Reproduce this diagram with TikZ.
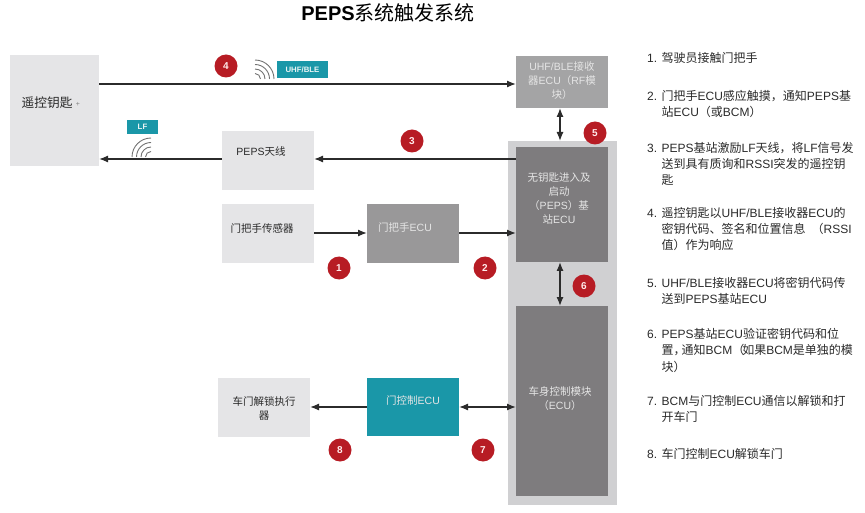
\documentclass[tikz,border=0pt]{standalone}
\usepackage{fontspec}
\setmainfont{Liberation Sans}
\newfontfamily\cjk{Noto Sans CJK SC}
\usetikzlibrary{arrows.meta}
\definecolor{lightbox}{HTML}{E5E5E7}
\definecolor{midbox}{HTML}{999899}
\definecolor{rfbox}{HTML}{A4A4A5}
\definecolor{darkbox}{HTML}{7E7C7E}
\definecolor{backbox}{HTML}{D0D0D2}
\definecolor{tealbox}{HTML}{1A97A8}
\definecolor{badgered}{HTML}{B71C24}
\definecolor{linecol}{HTML}{2B2B2B}
\definecolor{inktext}{HTML}{2A2A2A}
\newcommand\zh[1]{{\cjk #1}}
\newcommand\mkbox[6]{%
  \pgfmathsetmacro\bw{#5-#3}\pgfmathsetmacro\bh{#6-#4}%
  \node[#2,minimum width=\bw pt,minimum height=\bh pt,anchor=north west] (#1) at (#3,#4) {};}
\tikzset{
  boxbase/.style={inner sep=0pt,outer sep=0pt,draw=none},
  lightb/.style={boxbase,fill=lightbox},
  midb/.style={boxbase,fill=midbox},
  rfb/.style={boxbase,fill=rfbox},
  darkb/.style={boxbase,fill=darkbox},
  backb/.style={boxbase,fill=backbox},
  tealb/.style={boxbase,fill=tealbox},
  labdark/.style={align=center,inner sep=0pt,text=inktext,font=\fontsize{10.5}{14}\selectfont},
  lablight/.style={align=center,inner sep=0pt,text=white!90!black,font=\fontsize{10.5}{14}\selectfont},
  tagtext/.style={inner sep=0pt,text=white!92!teal,font=\fontsize{7.8}{8}\selectfont\bfseries},
  badge/.style={circle,fill=badgered,draw=none,minimum size=23pt,inner sep=0pt,text=white!92!red,font=\fontsize{10}{10}\selectfont\bfseries},
  conn/.style={draw=linecol,line width=1.3pt},
  onearrow/.style={conn,-{Latex[length=9pt,width=7pt]}},
  twoarrow/.style={conn,{Latex[length=9pt,width=7pt]}-{Latex[length=9pt,width=7pt]}},
  wave/.style={draw=gray!90!black,line width=0.9pt},
  steptext/.style={anchor=north west,align=left,inner sep=0pt,text=inktext,font=\fontsize{12}{16.3}\selectfont},
}
\begin{document}
\begin{tikzpicture}[x=1pt,y=-1pt]
\useasboundingbox (0,0) rectangle (865,513);
% title
\node[inner sep=0pt,text=black,font=\fontsize{20}{22}\selectfont] (title) at (388,13) {\textbf{PEPS}\zh{系统触发系统}};
% boxes
\mkbox{back}{backb}{508}{141}{617}{505}
\mkbox{fob}{lightb}{10}{55}{99}{166}
\mkbox{rf}{rfb}{516}{56}{608}{108}
\mkbox{peps}{darkb}{516}{147}{608}{262}
\mkbox{bcm}{darkb}{516}{306}{608}{496}
\mkbox{ant}{lightb}{222}{131}{314}{190}
\mkbox{sensor}{lightb}{222}{204}{314}{263}
\mkbox{hecu}{midb}{367}{204}{459}{263}
\mkbox{decu}{tealb}{367}{378}{459}{436}
\mkbox{act}{lightb}{218}{378}{310}{437}
% tags
\mkbox{uhftag}{tealb}{277}{61}{328}{78}
\mkbox{lftag}{tealb}{127}{120}{158}{134}
\node[tagtext] (uhftxt) at (uhftag) {UHF/BLE};
\node[tagtext] (lftxt) at (lftag) {LF};
% box labels
\node[inner sep=0pt,text=inktext,font=\fontsize{12.75}{14}\selectfont] (fobtxt) at (47,103) {\zh{遥控钥匙}};
\node[inner sep=0pt,text=gray,font=\fontsize{7}{8}\selectfont] (fobplus) at (78,104) {+};
\node[lablight] (rftxt) at (562,81) {UHF/BLE\zh{接收}\\\zh{器}ECU\zh{（}RF\zh{模}\\\zh{块）}};
\node[lablight] (pepstxt) at (559,199) {\zh{无钥匙进入及}\\\zh{启动}\\\zh{（}PEPS\zh{）基}\\\zh{站}ECU};
\node[lablight] (bcmtxt) at (560,399) {\zh{车身控制模块}\\\zh{（}ECU\zh{）}};
\node[labdark] (anttxt) at (261,151) {PEPS\zh{天线}};
\node[labdark] (sensortxt) at (262,228) {\zh{门把手传感器}};
\node[lablight] (hecutxt) at (405,228) {\zh{门把手}ECU};
\node[lablight] (decutxt) at (413,401) {\zh{门控制}ECU};
\node[labdark] (acttxt) at (264,408) {\zh{车门解锁执行}\\\zh{器}};
% y levels of the connectors
\coordinate (y4) at (0,84);
\coordinate (y3) at (0,159);
\coordinate (y1) at (0,233);
\coordinate (y7) at (0,407);
\coordinate (xv) at (560,0);
% connectors
\draw[onearrow] (fob.east|-y4) -- (rf.west|-y4);
\draw[onearrow] (peps.west|-y3) -- (ant.east|-y3);
\draw[onearrow] (ant.west|-y3) -- (fob.east|-y3);
\draw[onearrow] (sensor.east|-y1) -- (hecu.west|-y1);
\draw[onearrow] (hecu.east|-y1) -- (peps.west|-y1);
\draw[twoarrow] (rf.south-|xv) -- (back.north-|xv);
\draw[twoarrow] (peps.south-|xv) -- (bcm.north-|xv);
\draw[onearrow] (decu.west|-y7) -- (act.east|-y7);
\draw[twoarrow] (decu.east|-y7) -- (bcm.west|-y7);
% wireless symbols
\foreach \r in {5.5,10,14.5,19}
  \draw[wave] (255+\r,79) arc[start angle=0,end angle=-90,radius=\r];
\foreach \r in {5.5,10,14.5,19}
  \draw[wave] (151-\r,157) arc[start angle=180,end angle=270,radius=\r];
% badges
\node[badge] (b1) at (339,268) {1};
\node[badge] (b2) at (485,268) {2};
\node[badge] (b3) at (412,141) {3};
\node[badge] (b4) at (226,66) {4};
\node[badge] (b5) at (595,133) {5};
\node[badge] (b6) at (584,286) {6};
\node[badge] (b7) at (483,450) {7};
\node[badge] (b8) at (340,450) {8};
% steps
\node[steptext] (s1) at (647,52) {1. \zh{驾驶员接触门把手}};
\node[steptext] (s2) at (647,90) {2. \zh{门把手}ECU\zh{感应触摸，通知}PEPS\zh{基}\\\hphantom{2. }\zh{站}ECU\zh{（或}BCM\zh{）}};
\node[steptext] (s3) at (647,142) {3. PEPS\zh{基站激励}LF\zh{天线，将}LF\zh{信号发}\\\hphantom{3. }\zh{送到具有质询和}RSSI\zh{突发的遥控钥}\\\hphantom{3. }\zh{匙}};
\node[steptext] (s4) at (647,207) {4. \zh{遥控钥匙以}UHF/BLE\zh{接收器}ECU\zh{的}\\\hphantom{4. }\zh{密钥代码、签名和位置信息}\hspace{6pt}\zh{（}RSSI\\\hphantom{4. }\zh{值）作为响应}};
\node[steptext] (s5) at (647,277) {5. UHF/BLE\zh{接收器}ECU\zh{将密钥代码传}\\\hphantom{5. }\zh{送到}PEPS\zh{基站}ECU};
\node[steptext] (s6) at (647,328) {6. PEPS\zh{基站}ECU\zh{验证密钥代码和位}\\\hphantom{6. }\zh{置，}\hspace{-4pt}\zh{通知}BCM\zh{（}\hspace{-2pt}\zh{如果}BCM\zh{是单独的模}\\\hphantom{6. }\zh{块）}};
\node[steptext] (s7) at (647,395) {7. BCM\zh{与门控制}ECU\zh{通信以解锁和打}\\\hphantom{7. }\zh{开车门}};
\node[steptext] (s8) at (647,448) {8. \zh{车门控制}ECU\zh{解锁车门}};
\end{tikzpicture}
\end{document}
